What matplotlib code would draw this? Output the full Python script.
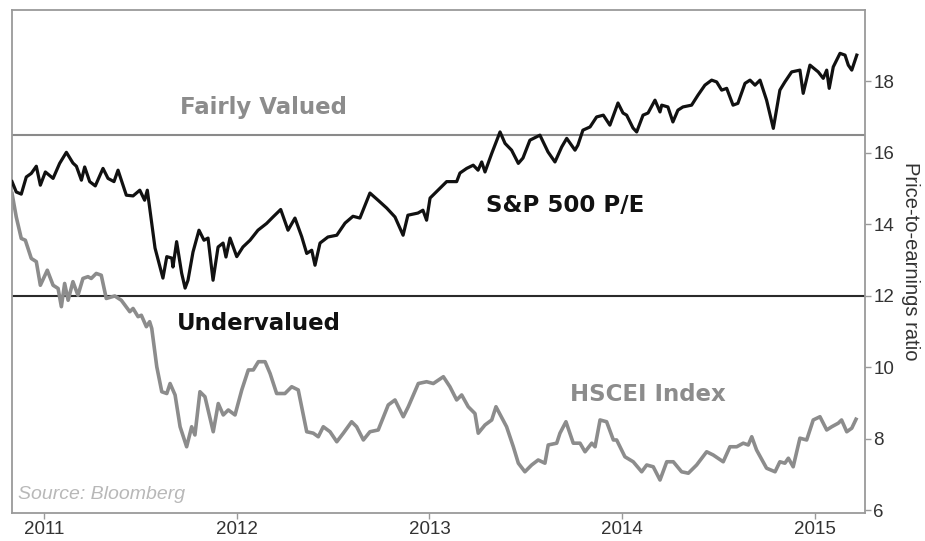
import matplotlib
matplotlib.use("Agg")
import matplotlib.pyplot as plt

# S&P 500 P/E (weekly-ish readings, x in decimal years)
sp_anos = [2010.834, 2010.856, 2010.882, 2010.908, 2010.934, 2010.960, 2010.981, 2011.007, 2011.047, 2011.081,
           2011.116, 2011.150, 2011.168, 2011.194, 2011.211, 2011.237, 2011.266, 2011.306, 2011.332, 2011.363,
           2011.384, 2011.427, 2011.462, 2011.497, 2011.522, 2011.536, 2011.576, 2011.617, 2011.637, 2011.663,
           2011.669, 2011.688, 2011.714, 2011.732, 2011.747, 2011.773, 2011.804, 2011.830, 2011.851, 2011.877,
           2011.903, 2011.929, 2011.944, 2011.965, 2012.000, 2012.032, 2012.069, 2012.110, 2012.155, 2012.188,
           2012.228, 2012.266, 2012.302, 2012.337, 2012.363, 2012.389, 2012.406, 2012.432, 2012.473, 2012.519,
           2012.562, 2012.603, 2012.639, 2012.691, 2012.733, 2012.778, 2012.821, 2012.863, 2012.888, 2012.940,
           2012.966, 2012.985, 2013.003, 2013.044, 2013.089, 2013.141, 2013.158, 2013.193, 2013.227, 2013.252,
           2013.271, 2013.288, 2013.323, 2013.366, 2013.392, 2013.426, 2013.461, 2013.485, 2013.521, 2013.573,
           2013.615, 2013.651, 2013.686, 2013.712, 2013.755, 2013.770, 2013.796, 2013.833, 2013.867, 2013.902,
           2013.936, 2013.978, 2014.004, 2014.023, 2014.056, 2014.075, 2014.108, 2014.134, 2014.170, 2014.196,
           2014.205, 2014.237, 2014.263, 2014.289, 2014.315, 2014.360, 2014.393, 2014.429, 2014.464, 2014.490,
           2014.516, 2014.542, 2014.575, 2014.600, 2014.637, 2014.663, 2014.689, 2014.715, 2014.749, 2014.784,
           2014.818, 2014.844, 2014.879, 2014.922, 2014.939, 2014.974, 2015.017, 2015.043, 2015.061, 2015.074,
           2015.095, 2015.130, 2015.156, 2015.173, 2015.191, 2015.217]
sp_pe = [15.19, 14.90, 14.84, 15.32, 15.42, 15.62, 15.09, 15.46, 15.28, 15.70,
         16.01, 15.71, 15.62, 15.23, 15.60, 15.19, 15.07, 15.56, 15.28, 15.19,
         15.51, 14.81, 14.79, 14.95, 14.67, 14.95, 13.33, 12.49, 13.09, 13.05,
         12.80, 13.51, 12.63, 12.21, 12.43, 13.22, 13.83, 13.55, 13.61, 12.43,
         13.36, 13.47, 13.08, 13.61, 13.09, 13.36, 13.55, 13.83, 14.02, 14.20,
         14.41, 13.83, 14.17, 13.65, 13.18, 13.27, 12.85, 13.47, 13.64, 13.69,
         14.03, 14.22, 14.17, 14.87, 14.67, 14.45, 14.20, 13.69, 14.25, 14.31,
         14.39, 14.11, 14.73, 14.95, 15.19, 15.19, 15.43, 15.56, 15.65, 15.51,
         15.74, 15.46, 15.98, 16.58, 16.26, 16.07, 15.70, 15.85, 16.35, 16.49,
         16.02, 15.74, 16.16, 16.40, 16.07, 16.21, 16.63, 16.72, 17.00, 17.05,
         16.77, 17.39, 17.11, 17.05, 16.69, 16.58, 17.05, 17.11, 17.47, 17.14,
         17.33, 17.28, 16.86, 17.19, 17.28, 17.33, 17.61, 17.89, 18.03, 17.98,
         17.75, 17.80, 17.33, 17.38, 17.94, 18.03, 17.89, 18.03, 17.47, 16.68,
         17.75, 17.98, 18.26, 18.31, 17.66, 18.45, 18.26, 18.08, 18.31, 17.80,
         18.40, 18.78, 18.73, 18.45, 18.31, 18.73]

# HSCEI Index P/E
hs_anos = [2010.834, 2010.856, 2010.882, 2010.903, 2010.934, 2010.960, 2010.981, 2011.017, 2011.047, 2011.073,
           2011.090, 2011.107, 2011.125, 2011.150, 2011.176, 2011.202, 2011.228, 2011.245, 2011.271, 2011.297,
           2011.323, 2011.367, 2011.401, 2011.445, 2011.462, 2011.488, 2011.505, 2011.531, 2011.548, 2011.559,
           2011.585, 2011.611, 2011.637, 2011.654, 2011.680, 2011.706, 2011.740, 2011.766, 2011.783, 2011.809,
           2011.835, 2011.878, 2011.904, 2011.930, 2011.956, 2011.991, 2012.026, 2012.060, 2012.086, 2012.112,
           2012.147, 2012.173, 2012.207, 2012.250, 2012.285, 2012.319, 2012.363, 2012.397, 2012.423, 2012.449,
           2012.484, 2012.519, 2012.553, 2012.596, 2012.622, 2012.657, 2012.691, 2012.734, 2012.786, 2012.821,
           2012.864, 2012.890, 2012.942, 2012.985, 2013.020, 2013.072, 2013.106, 2013.141, 2013.167, 2013.201,
           2013.236, 2013.253, 2013.288, 2013.323, 2013.345, 2013.400, 2013.435, 2013.461, 2013.495, 2013.530,
           2013.564, 2013.599, 2013.616, 2013.660, 2013.677, 2013.708, 2013.746, 2013.781, 2013.807, 2013.842,
           2013.859, 2013.885, 2013.919, 2013.954, 2013.971, 2014.014, 2014.057, 2014.101, 2014.127, 2014.161,
           2014.196, 2014.231, 2014.265, 2014.308, 2014.343, 2014.386, 2014.438, 2014.472, 2014.524, 2014.559,
           2014.594, 2014.628, 2014.654, 2014.672, 2014.697, 2014.749, 2014.793, 2014.818, 2014.844, 2014.862,
           2014.887, 2014.922, 2014.957, 2014.991, 2015.026, 2015.061, 2015.087, 2015.121, 2015.138, 2015.165,
           2015.191, 2015.213]
hs_pe = [14.86, 14.20, 13.60, 13.55, 13.04, 12.95, 12.29, 12.71, 12.29, 12.20,
         11.69, 12.34, 11.87, 12.39, 12.01, 12.48, 12.53, 12.48, 12.62, 12.57,
         11.92, 11.99, 11.87, 11.55, 11.64, 11.41, 11.45, 11.13, 11.27, 11.08,
         10.01, 9.31, 9.26, 9.54, 9.22, 8.33, 7.77, 8.33, 8.10, 9.31,
         9.17, 8.19, 8.98, 8.66, 8.80, 8.66, 9.36, 9.92, 9.92, 10.15,
         10.15, 9.82, 9.26, 9.26, 9.45, 9.36, 8.19, 8.15, 8.05, 8.33,
         8.19, 7.91, 8.15, 8.47, 8.33, 7.96, 8.19, 8.24, 8.94, 9.08,
         8.61, 8.89, 9.54, 9.59, 9.54, 9.73, 9.45, 9.08, 9.22, 8.89,
         8.70, 8.15, 8.38, 8.52, 8.89, 8.33, 7.77, 7.31, 7.07, 7.26,
         7.40, 7.31, 7.82, 7.87, 8.15, 8.47, 7.87, 7.87, 7.63, 7.87,
         7.77, 8.52, 8.47, 7.96, 7.96, 7.49, 7.35, 7.07, 7.26, 7.21,
         6.84, 7.35, 7.35, 7.07, 7.03, 7.26, 7.63, 7.54, 7.35, 7.77,
         7.77, 7.87, 7.82, 8.05, 7.68, 7.17, 7.07, 7.35, 7.31, 7.45,
         7.21, 8.01, 7.96, 8.52, 8.61, 8.24, 8.33, 8.43, 8.52, 8.19,
         8.29, 8.54]

anos_ticks = [2011, 2012, 2013, 2014, 2015]
pe_ticks = [6, 8, 10, 12, 14, 16, 18]
linha_justo = 16.5
linha_barato = 12

fig = plt.figure(figsize=(9.25, 5.41), dpi=100)
ax = fig.add_axes([0.013, 0.052, 0.922, 0.930])

# Linhas de referencia
ax.axhline(linha_justo, color='#8a8a8a', lw=1.5, zorder=1)
ax.axhline(linha_barato, color='#2a2a2a', lw=1.5, zorder=1)

# Series
ax.plot(hs_anos, hs_pe, color='#8c8c8c', lw=2.6, solid_joinstyle='round', zorder=2)
ax.plot(sp_anos, sp_pe, color='#111111', lw=2.3, solid_joinstyle='round', zorder=3)

# Rotulos
rot = dict(fontsize=16.5, fontweight='bold', ha='center', va='center', family='DejaVu Sans')
ax.text(2012.136, 17.27, 'Fairly Valued', color='#8c8c8c', **rot)
ax.text(2013.703, 14.53, 'S&P 500 P/E', color='#111111', **rot)
ax.text(2012.115, 11.23, 'Undervalued', color='#111111', **rot)
ax.text(2014.134, 9.22, 'HSCEI Index', color='#8c8c8c', **rot)
ax.text(0.007, 0.036, 'Source: Bloomberg', transform=ax.transAxes, color='#b8b8b8',
        fontsize=14, style='italic', ha='left', va='center', family='Liberation Sans')

# Eixos
ax.set_xlim(2010.834, 2015.259)
ax.set_ylim(5.92, 20.0)
ax.set_xticks(anos_ticks)
ax.set_xticklabels([str(a) for a in anos_ticks])
ax.set_yticks(pe_ticks)
ax.yaxis.tick_right()
ax.yaxis.set_label_position('right')
ax.set_ylabel('Price-to-earnings ratio', rotation=270, labelpad=19, fontsize=14.5,
              color='#333333', family='Liberation Sans')

for spine in ax.spines.values():
    spine.set_color('#9a9a9a')
    spine.set_linewidth(1.3)

ax.tick_params(axis='both', colors='#9a9a9a', labelcolor='#333333', length=4, width=1,
               labelsize=13.5, direction='out', pad=2)
for lab in ax.get_xticklabels() + ax.get_yticklabels():
    lab.set_family('Liberation Sans')

fig.savefig('out.png', dpi=100)
